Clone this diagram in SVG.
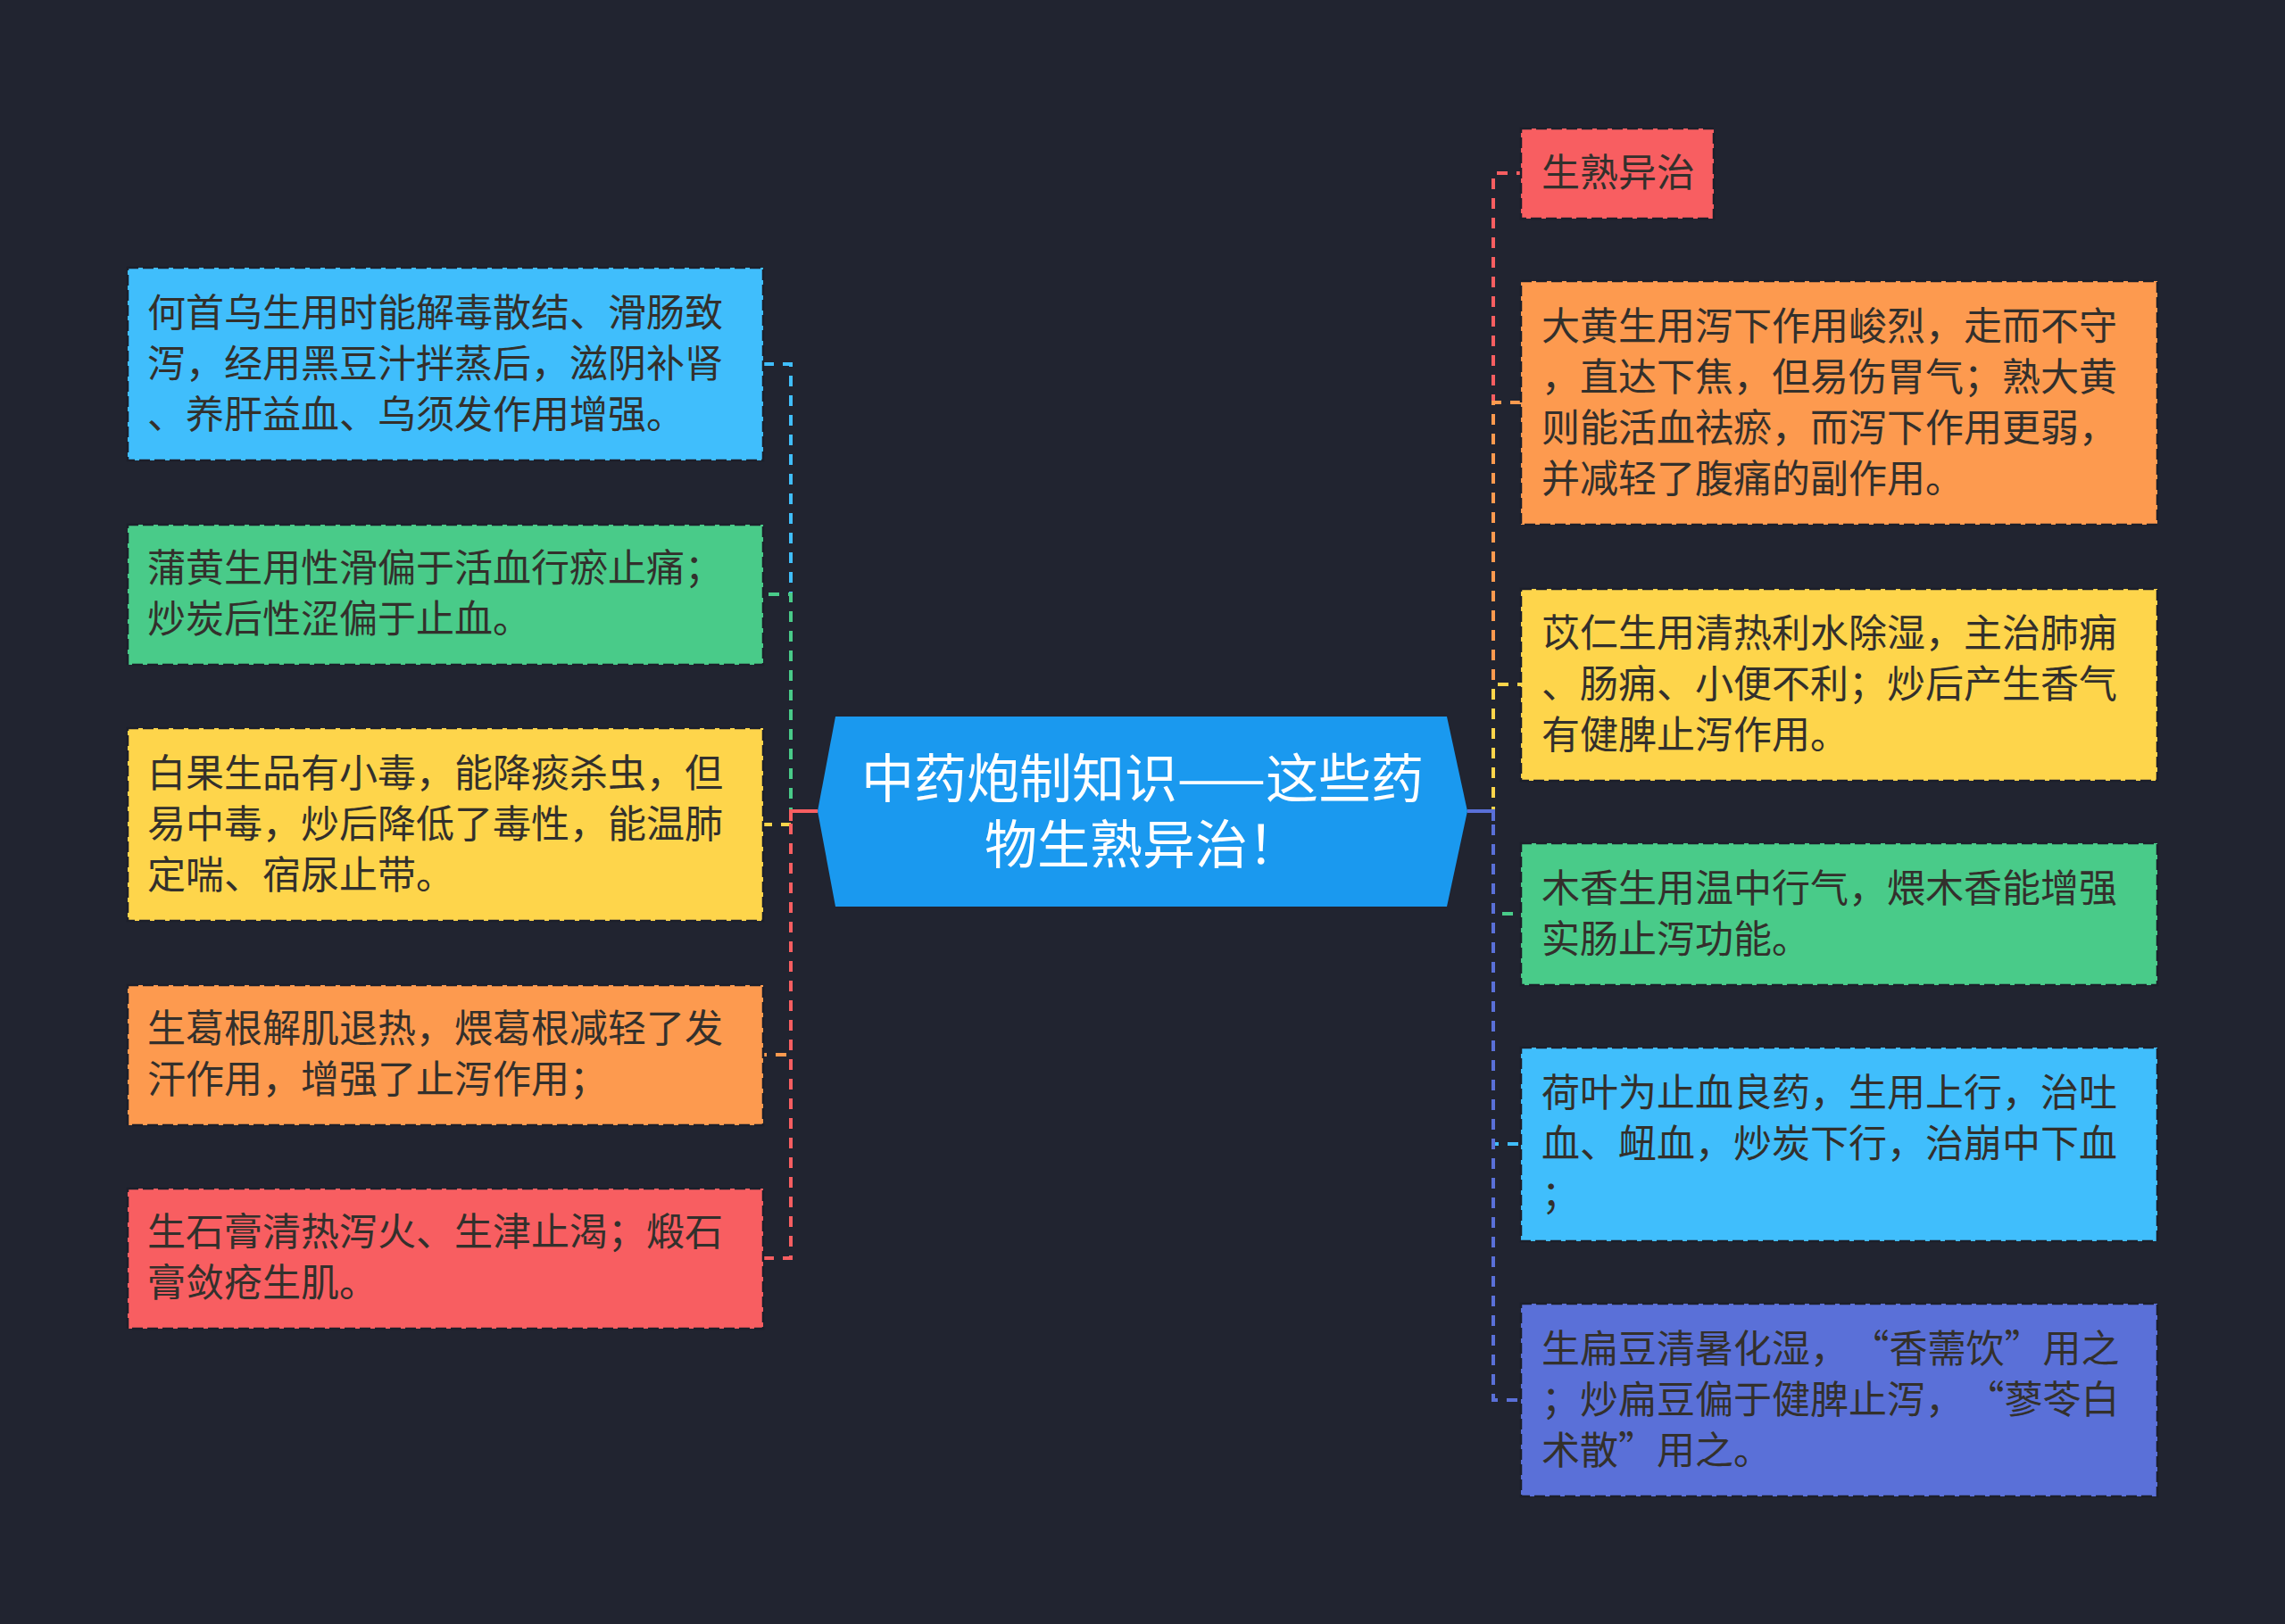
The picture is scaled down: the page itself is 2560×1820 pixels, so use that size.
<svg xmlns="http://www.w3.org/2000/svg" width="2560" height="1820" viewBox="0 0 2560 1820">
<style>
.bg{fill:#212430}
.node rect{stroke:#1c1f2a;stroke-width:2.5;stroke-dasharray:12 5}
.t{font-family:"Noto Sans CJK SC","Noto Sans",sans-serif;font-size:43px;fill:#33302c}
.ct{font-family:"Noto Sans CJK SC","Noto Sans",sans-serif;font-size:59px;fill:#ffffff;text-anchor:middle}
.c{fill:none;stroke-width:4;stroke-dasharray:12 10}
.blue{fill:#40befc}.green{fill:#49cb89}.yellow{fill:#fed54b}.orange{fill:#fd9a4f}.red{fill:#f85e61}.purple{fill:#5a70d8}
</style>
<rect class="bg" x="0" y="0" width="2560" height="1820"/>
<g id="connectors">
<path class="c" stroke="#40befc" d="M916,909 H886 V408 H855"/>
<path class="c" stroke="#49cb89" d="M916,909 H886 V666 H855"/>
<path class="c" stroke="#fed54b" d="M916,909 H886 V924 H855"/>
<path class="c" stroke="#fd9a4f" d="M916,909 H886 V1182 H855"/>
<path class="c" stroke="#f85e61" d="M916,909 H886 V1410 H855"/>
<path fill="none" stroke="#f85e61" stroke-width="4" d="M916,909 H886 V920"/>
<path class="c" stroke="#f85e61" d="M1644,909 H1673 V194 H1704"/>
<path class="c" stroke="#fd9a4f" d="M1644,909 H1673 V451 H1704"/>
<path class="c" stroke="#fed54b" d="M1644,909 H1673 V767 H1704"/>
<path class="c" stroke="#49cb89" d="M1644,909 H1673 V1024 H1704"/>
<path class="c" stroke="#40befc" d="M1644,909 H1673 V1282 H1704"/>
<path class="c" stroke="#5a70d8" d="M1644,909 H1673 V1569 H1704"/>
<path fill="none" stroke="#5a70d8" stroke-width="4" d="M1644,909 H1673 V920"/>
</g>
<g id="center">
<polygon points="936,803 1621,803 1644,909 1621,1016 936,1016 916,909" fill="#1a99ef"/>
<text class="ct" x="1280" y="894">中药炮制知识——这些药<tspan x="1280" dy="74">物生熟异治！</tspan></text>
</g>
<g id="L1" class="node"><rect class="blue" x="143" y="300" width="712" height="216"/>
<text class="t" x="165" y="366">何首乌生用时能解毒散结、滑肠致</text>
<text class="t" x="165" y="423">泻，经用黑豆汁拌蒸后，滋阴补肾</text>
<text class="t" x="165" y="480">、养肝益血、乌须发作用增强。</text></g>
<g id="L2" class="node"><rect class="green" x="143" y="588" width="712" height="157"/>
<text class="t" x="165" y="652">蒲黄生用性滑偏于活血行瘀止痛；</text>
<text class="t" x="165" y="709">炒炭后性涩偏于止血。</text></g>
<g id="L3" class="node"><rect class="yellow" x="143" y="816" width="712" height="216"/>
<text class="t" x="165" y="882">白果生品有小毒，能降痰杀虫，但</text>
<text class="t" x="165" y="939">易中毒，炒后降低了毒性，能温肺</text>
<text class="t" x="165" y="996">定喘、宿尿止带。</text></g>
<g id="L4" class="node"><rect class="orange" x="143" y="1104" width="712" height="157"/>
<text class="t" x="165" y="1168">生葛根解肌退热，煨葛根减轻了发</text>
<text class="t" x="165" y="1225">汗作用，增强了止泻作用；</text></g>
<g id="L5" class="node"><rect class="red" x="143" y="1332" width="712" height="157"/>
<text class="t" x="165" y="1396">生石膏清热泻火、生津止渴；煅石</text>
<text class="t" x="165" y="1453">膏敛疮生肌。</text></g>
<g id="R0" class="node"><rect class="red" x="1704" y="144" width="216" height="101"/>
<text class="t" x="1727" y="209">生熟异治</text></g>
<g id="R1" class="node"><rect class="orange" x="1704" y="315" width="713" height="273"/>
<text class="t" x="1727" y="381">大黄生用泻下作用峻烈，走而不守</text>
<text class="t" x="1727" y="438">，直达下焦，但易伤胃气；熟大黄</text>
<text class="t" x="1727" y="495">则能活血祛瘀，而泻下作用更弱，</text>
<text class="t" x="1727" y="552">并减轻了腹痛的副作用。</text></g>
<g id="R2" class="node"><rect class="yellow" x="1704" y="660" width="713" height="215"/>
<text class="t" x="1727" y="725">苡仁生用清热利水除湿，主治肺痈</text>
<text class="t" x="1727" y="782">、肠痈、小便不利；炒后产生香气</text>
<text class="t" x="1727" y="839">有健脾止泻作用。</text></g>
<g id="R3" class="node"><rect class="green" x="1704" y="945" width="713" height="159"/>
<text class="t" x="1727" y="1011">木香生用温中行气，煨木香能增强</text>
<text class="t" x="1727" y="1068">实肠止泻功能。</text></g>
<g id="R4" class="node"><rect class="blue" x="1704" y="1174" width="713" height="217"/>
<text class="t" x="1727" y="1240">荷叶为止血良药，生用上行，治吐</text>
<text class="t" x="1727" y="1297">血、衄血，炒炭下行，治崩中下血</text>
<text class="t" x="1727" y="1354">；</text></g>
<g id="R5" class="node"><rect class="purple" x="1704" y="1461" width="713" height="216"/>
<text class="t" x="1727" y="1527">生扁豆清暑化湿，<tspan dx="24">“香薷饮”用之</tspan></text>
<text class="t" x="1727" y="1584">；炒扁豆偏于健脾止泻，<tspan dx="24">“蓼苓白</tspan></text>
<text class="t" x="1727" y="1641">术散”用之。</text></g>
</svg>
